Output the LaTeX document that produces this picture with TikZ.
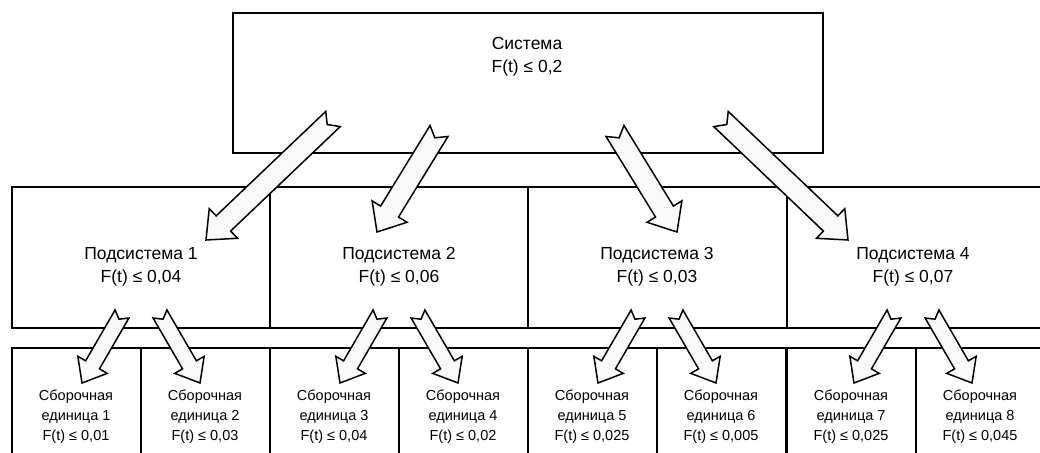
\documentclass[tikz,border=0pt]{standalone}
\usepackage{fontspec}
\setmainfont{Liberation Sans}
\usetikzlibrary{calc}
\tikzset{
  boxshape/.style={draw=black, line width=2pt, fill=white, inner sep=0pt},
  bigtext/.style={align=center, font=\fontsize{17.5}{23}\selectfont, inner sep=0pt},
  smalltext/.style={align=center, font=\fontsize{14.5}{20}\selectfont, inner sep=0pt},
  arrowshape/.style={draw=black, line width=1.5pt, fill=gray!5, line join=miter},
}
% #1 tail coordinate, #2 head coordinate, #3 half shaft, #4 half head, #5 head length, #6 notch depth
\newcommand\blockarrow[6]{%
  \path ($(#2)!#5!(#1)$) coordinate (#1b);
  \draw[arrowshape] ($(#1)!#3!90:(#2)$) -- ($(#1b)!#3!90:(#2)$) -- ($(#1b)!#4!90:(#2)$)
    -- (#2) -- ($(#1b)!#4!-90:(#2)$) -- ($(#1b)!#3!-90:(#2)$) -- ($(#1)!#3!-90:(#2)$)
    -- ($(#1)!#6!(#2)$) -- cycle;
}
\begin{document}
\begin{tikzpicture}[x=1pt,y=-1pt]
\useasboundingbox (0,0) rectangle (1040,452);
\clip (0,0) rectangle (1040,452);
\fill[white] (0,0) rectangle (1040,452);

% top box
\node[boxshape, minimum width=590pt, minimum height=140pt] (sys) at (528,83) {};
\node[bigtext] (systxt) at (527,57) {Система\\F(t) ≤ 0,2};

% middle boxes
\node[boxshape, minimum width=258pt, minimum height=141pt] (sub1) at (141,257.5) {};
\node[boxshape, minimum width=258pt, minimum height=141pt] (sub2) at (399,257.5) {};
\node[boxshape, minimum width=259pt, minimum height=141pt] (sub3) at (657.5,257.5) {};
\node[boxshape, minimum width=260pt, minimum height=141pt] (sub4) at (917,257.5) {};
\node[bigtext] (sub1txt) at (141,267) {Подсистема 1\\F(t) ≤ 0,04};
\node[bigtext] (sub2txt) at (399,267) {Подсистема 2\\F(t) ≤ 0,06};
\node[bigtext] (sub3txt) at (657,267) {Подсистема 3\\F(t) ≤ 0,03};
\node[bigtext] (sub4txt) at (913,267) {Подсистема 4\\F(t) ≤ 0,07};

% bottom boxes
\node[boxshape, minimum width=129pt, minimum height=138pt] (u1) at (76.5,417) {};
\node[boxshape, minimum width=129pt, minimum height=138pt] (u2) at (205.5,417) {};
\node[boxshape, minimum width=129pt, minimum height=138pt] (u3) at (334.5,417) {};
\node[boxshape, minimum width=129pt, minimum height=138pt] (u4) at (463.5,417) {};
\node[boxshape, minimum width=129pt, minimum height=138pt] (u5) at (592.5,417) {};
\node[boxshape, minimum width=129pt, minimum height=138pt] (u6) at (721.5,417) {};
\node[boxshape, minimum width=129pt, minimum height=138pt] (u7) at (851,417) {};
\node[boxshape, minimum width=129pt, minimum height=138pt] (u8) at (980,417) {};
\node[smalltext] (u1txt) at (76,417) {Сборочная\\единица 1\\F(t) ≤ 0,01};
\node[smalltext] (u2txt) at (205,417) {Сборочная\\единица 2\\F(t) ≤ 0,03};
\node[smalltext] (u3txt) at (334,417) {Сборочная\\единица 3\\F(t) ≤ 0,04};
\node[smalltext] (u4txt) at (463,417) {Сборочная\\единица 4\\F(t) ≤ 0,02};
\node[smalltext] (u5txt) at (592,417) {Сборочная\\единица 5\\F(t) ≤ 0,025};
\node[smalltext] (u6txt) at (721,417) {Сборочная\\единица 6\\F(t) ≤ 0,005};
\node[smalltext] (u7txt) at (851,417) {Сборочная\\единица 7\\F(t) ≤ 0,025};
\node[smalltext] (u8txt) at (980,417) {Сборочная\\единица 8\\F(t) ≤ 0,045};

% top arrows
\coordinate (a1t) at (333,119); \coordinate (a1h) at (206,240);
\coordinate (a2t) at (439,131); \coordinate (a2h) at (377,232);
\coordinate (a3t) at (615,131); \coordinate (a3h) at (677,232);
\coordinate (a4t) at (721,119); \coordinate (a4h) at (848,240);
\blockarrow{a1t}{a1h}{10.5pt}{20.5pt}{24pt}{8pt}
\blockarrow{a2t}{a2h}{10.5pt}{20.5pt}{24pt}{8pt}
\blockarrow{a3t}{a3h}{10.5pt}{20.5pt}{24pt}{8pt}
\blockarrow{a4t}{a4h}{10.5pt}{20.5pt}{24pt}{8pt}

% bottom arrows
\foreach \c [count=\i] in {141,399,657,913}{
  \coordinate (bl\i t) at (\c-19,314); \coordinate (bl\i h) at (\c-59,383);
  \coordinate (br\i t) at (\c+19,314); \coordinate (br\i h) at (\c+59,383);
  \blockarrow{bl\i t}{bl\i h}{8pt}{17pt}{21pt}{6pt}
  \blockarrow{br\i t}{br\i h}{8pt}{17pt}{21pt}{6pt}
}
\end{tikzpicture}
\end{document}
